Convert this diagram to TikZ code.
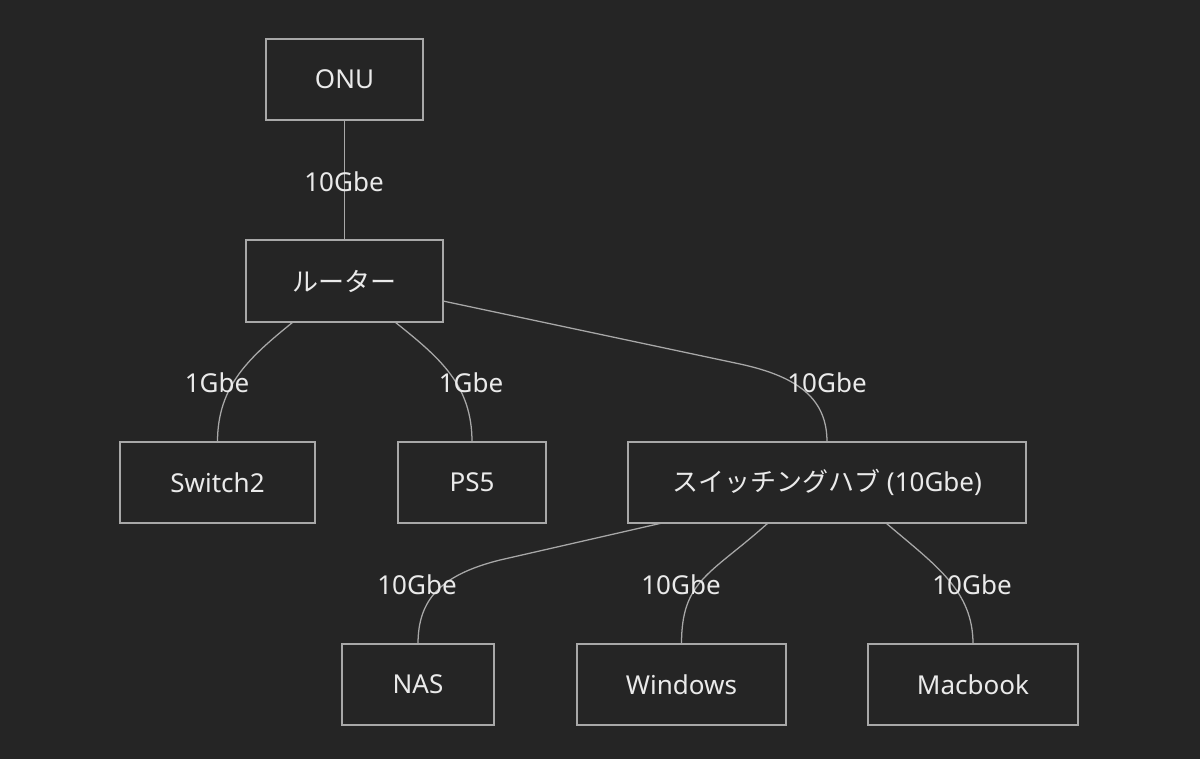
\documentclass[tikz,border=0pt]{standalone}
\usepackage{fontspec}
\setmainfont{Noto Sans}
\newfontfamily\cjk{Noto Sans CJK JP}
\usetikzlibrary{calc}
\definecolor{bg}{HTML}{252525}
\definecolor{edgec}{HTML}{A8A8A8}
\definecolor{txt}{HTML}{EAEAEA}
\tikzset{
  box/.style={draw=edgec, line width=1pt, fill=bg, minimum height=2.025cm, inner sep=0pt, outer sep=0pt, text=txt},
  link/.style={draw=edgec, line width=0.9pt},
  lbl/.style={inner sep=0pt, text=txt}
}
\begin{document}
\begin{tikzpicture}[x=0.025cm, y=-0.025cm, font=\fontsize{18.5}{22}\selectfont]
\fill[bg] (0,0) rectangle (1200,759);
\useasboundingbox (0,0) rectangle (1200,759);

\node[box, minimum width=3.925cm] (onu) at (344.5,79.5) {ONU};
\node[box, minimum width=4.925cm, minimum height=2.05cm] (router) at (344.5,281) {\cjk ルーター};
\node[box, minimum width=4.875cm] (sw2) at (217.5,482.5) {Switch2};
\node[box, minimum width=3.7cm] (ps5) at (472,482.5) {PS5};
\node[box, minimum width=9.95cm] (hub) at (827,482.5) {{\cjk スイッチングハブ} (10Gbe)};
\node[box, minimum width=3.8cm] (nas) at (418,684.5) {NAS};
\node[box, minimum width=5.225cm] (win) at (681.5,684.5) {Windows};
\node[box, minimum width=5.25cm] (mac) at (973,684.5) {Macbook};

\draw[link] (onu.south) -- (router.north);
\draw[link] ($(router.south)+(-51.5,0)$) .. controls (250,357) and (217.5,385) .. (sw2.north);
\draw[link] ($(router.south)+(50.5,0)$) .. controls (440,358) and (472,385) .. (ps5.north);
\draw[link] ($(router.east)+(0,20)$) -- (740,364) .. controls (800,377) and (827,400) .. (hub.north);
\draw[link] ($(hub.south)+(-165,0)$) -- (500,560) .. controls (440,575) and (418,600) .. (nas.north);
\draw[link] ($(hub.south)+(-59,0)$) .. controls (710,575) and (681.5,580) .. (win.north);
\draw[link] ($(hub.south)+(59,0)$) .. controls (935,565) and (973,590) .. (mac.north);

\node[lbl] (l1) at (344,182) {10Gbe};
\node[lbl] (l2) at (217,383) {1Gbe};
\node[lbl] (l3) at (471,383) {1Gbe};
\node[lbl] (l4) at (827,383) {10Gbe};
\node[lbl] (l5) at (417,585) {10Gbe};
\node[lbl] (l6) at (681,585) {10Gbe};
\node[lbl] (l7) at (972,585) {10Gbe};
\end{tikzpicture}
\end{document}
